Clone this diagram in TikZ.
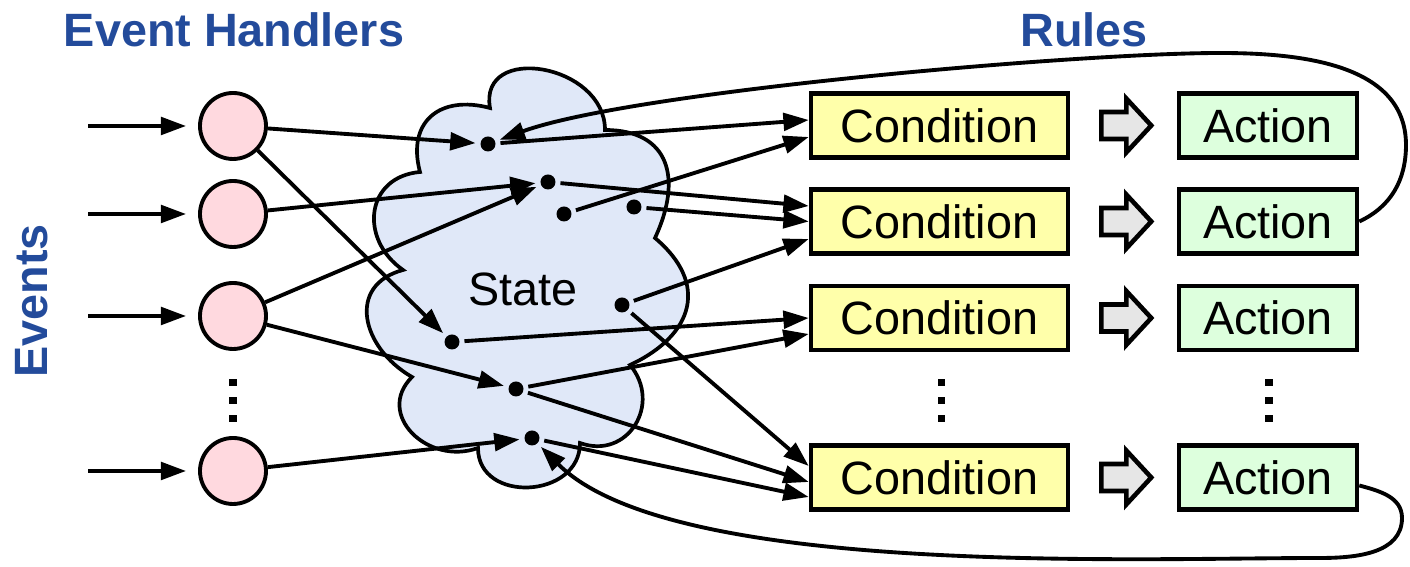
\documentclass[tikz,border=0pt]{standalone}
\usepackage{fontspec}
\setmainfont{Liberation Sans}
\usetikzlibrary{arrows.meta,calc}
\definecolor{ttlblue}{HTML}{234B9B}
\definecolor{hpink}{HTML}{FFD9DF}
\definecolor{sblue}{HTML}{E0E8F8}
\definecolor{cyellow}{HTML}{FFFFAA}
\definecolor{agreen}{HTML}{DDFFDD}
\definecolor{bgray}{HTML}{E6E6E6}
\newcommand{\lblfont}{\fontsize{13.3}{16}\selectfont}
\tikzset{
  % Titles in bold blue, boxes with a black stroke.
  ttl/.style    = {font=\lblfont\bfseries, text=ttlblue},
  hnd/.style    = {circle, draw, fill=hpink, line width=1.1pt, minimum size=0.66cm, inner sep=0pt},
  sdot/.style   = {circle, fill=black, inner sep=0pt, minimum size=0.15cm, outer sep=0.05cm},
  rulebox/.style = {rectangle, draw, fill=#1, line width=1.3pt, minimum height=0.64cm,
                   inner sep=0pt, font=\lblfont},
  cond/.style   = {rulebox=cyellow, minimum width=2.57cm},
  act/.style    = {rulebox=agreen, minimum width=1.78cm},
  arr/.style    = {-{Triangle[length=7.2pt,width=5pt]}, line width=1.1pt},
  blkarr/.style = {draw, fill=bgray, line width=1.3pt},
}

\begin{document}
\begin{tikzpicture}[x=1cm,y=1cm]
\useasboundingbox (0,0) rectangle (14.1,-5.67);
% ---- titles ---------------------------------------------------------
\node[ttl] (tHnd) at (2.34,-0.30) {Event Handlers};
\node[ttl] (tRul) at (10.84,-0.30) {Rules};
\node[ttl, rotate=90] (tEvt) at (0.32,-3.01) {Events};

% ---- state cloud ----------------------------------------------------
\draw[fill=sblue, line width=1.05pt]
  (4.90,-1.08) to[out=100,in=90,looseness=1.45] (6.05,-1.30)
  to[out=0,in=65,looseness=1.4] (6.55,-2.38)
  to[out=-40,in=25,looseness=1.4] (6.30,-3.65)
  to[out=-50,in=-20,looseness=1.4] (5.80,-4.43)
  to[out=-90,in=-90,looseness=1.4] (4.78,-4.48)
  to[out=200,in=225,looseness=1.4] (4.12,-3.77)
  to[out=150,in=195,looseness=1.4] (4.03,-2.70)
  to[out=145,in=185,looseness=1.4] (4.20,-1.72)
  to[out=105,in=165,looseness=1.4] cycle;
\node[font=\lblfont] (tSt) at (5.23,-2.89) {State};
\foreach \n/\x/\y in {1/4.88/1.44, 2/5.48/1.82, 3/5.64/2.14, 4/6.34/2.07,
                      5/6.22/3.05, 6/4.52/3.42, 7/5.16/3.89, 8/5.32/4.38}
  \node[sdot] (d\n) at (\x,-\y) {};

% ---- handlers -------------------------------------------------------
\foreach \i/\y in {1/1.26, 2/2.14, 3/3.16, 4/4.71} {
  \node[hnd] (h\i) at (2.33,-\y) {};
  \coordinate (in\i) at ([xshift=-1.1cm]h\i.west);
  \draw[arr] (in\i) -- ([xshift=-0.12cm]h\i.west);
}

% ---- rules ----------------------------------------------------------
\foreach \i/\y in {1/1.255, 2/2.215, 3/3.18, 4/4.775} {
  \node[cond] (c\i) at (9.395,-\y) {Condition};
  \node[act] (a\i) at (12.68,-\y) {Action};
  \draw[blkarr] ([shift={(0.31,0.135)}]c\i.east) -- ++(0.25,0) -- ++(0,0.135)
    -- ++(0.25,-0.27) -- ++(-0.25,-0.27) -- ++(0,0.135) -- ++(-0.25,0) -- cycle;
}
\foreach \x in {2.33,9.41,12.69}
  \foreach \y in {3.83,4.01,4.19}
    \fill (\x-0.035,-\y-0.035) rectangle ++(0.07,0.07);

% ---- wiring ---------------------------------------------------------
\foreach \a/\b in {h1/d1, h1/d6, h2/d2, h3/d2, h3/d7, h4/d8}
  \draw[arr] (\a) -- (\b);
\foreach \a/\b/\s in {d1/c1/0.055, d3/c1/-0.115, d2/c2/0.155, d4/c2/0, d5/c2/-0.175,
                      d6/c3/0, d7/c3/-0.16, d5/c4/0.115, d7/c4/-0.045, d8/c4/-0.195}
  \draw[arr] (\a) -- ([yshift=\s cm]\b.west);

% ---- feedback -------------------------------------------------------
\draw[arr] (a2.east) to[out=25,in=-90] (14.06,-1.45) to[out=90,in=0] (12.2,-0.53)
  to[out=180,in=20,looseness=0.5] (d1);
\draw[arr] ([yshift=-0.08cm]a4.east) to[out=-15,in=90] (14.02,-5.18) to[out=-90,in=0] (13.2,-5.58)
  to[out=180,in=-45,looseness=0.6] (d8);
\end{tikzpicture}
\end{document}
